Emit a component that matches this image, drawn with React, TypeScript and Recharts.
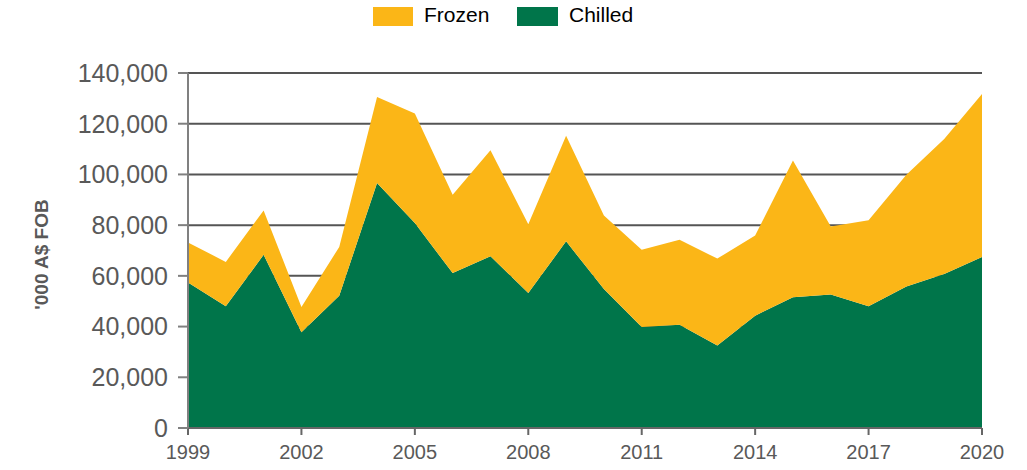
import React from "react";
import { AreaChart, Area, XAxis, YAxis, CartesianGrid } from "recharts";

const years = [1999, 2000, 2001, 2002, 2003, 2004, 2005, 2006, 2007, 2008, 2009, 2010, 2011, 2012, 2013, 2014, 2015, 2016, 2017, 2018, 2019, 2020];
const chilled = [57400, 48000, 68300, 37800, 52200, 96600, 80800, 61100, 67700, 53200, 73600, 54800, 39800, 40700, 32500, 44300, 51600, 52600, 48000, 55800, 60700, 67400];
const frozen = [15800, 17500, 17500, 9900, 19200, 33900, 43200, 30900, 41800, 27200, 41700, 29000, 30500, 33500, 34300, 31600, 53900, 26900, 33900, 44100, 53300, 64300];
const yTicks = [0, 20000, 40000, 60000, 80000, 100000, 120000, 140000];

const data = years.map((y, i) => ({ year: String(y), Chilled: chilled[i], Frozen: frozen[i] }));

const FONT = "'Liberation Sans', Arial, sans-serif";
const GREEN = "#00754A";
const YELLOW = "#FBB617";

const LegendBox = () => (
  <div style={{ position: "absolute", left: 0, top: 0, width: 1027, height: 32, fontFamily: FONT, fontSize: 21, color: "#000" }}>
    <span style={{ position: "absolute", left: 373, top: 7, width: 40, height: 19, background: YELLOW }} />
    <span style={{ position: "absolute", left: 424, top: 3, lineHeight: "24px" }}>Frozen</span>
    <span style={{ position: "absolute", left: 517, top: 7, width: 41, height: 19, background: GREEN }} />
    <span style={{ position: "absolute", left: 569, top: 3, lineHeight: "24px" }}>Chilled</span>
  </div>
);

export default function App() {
  return (
    <div style={{ position: "absolute", left: 0, top: 0, width: 1027, height: 470, background: "#fff" }}>
      <AreaChart width={1027} height={470} data={data} margin={{ top: 73, right: 45, bottom: 12, left: 0 }}>
        <CartesianGrid vertical={false} stroke="#555" strokeWidth={2} />
        <XAxis
          dataKey="year"
          interval={2}
          height={30}
          tickSize={7}
          tickMargin={10}
          stroke="#666"
          strokeWidth={2}
          tick={{ fill: "#595959", fontSize: 20, fontFamily: FONT }}
        />
        <YAxis
          width={188}
          domain={[0, 140000]}
          ticks={yTicks}
          tickFormatter={(v: number) => v.toLocaleString("en-US")}
          tickSize={10}
          tickMargin={10}
          stroke="#808080"
          strokeWidth={2}
          tick={{ fill: "#595959", fontSize: 25, fontFamily: FONT }}
          label={{ value: "'000 A$ FOB", angle: -90, position: "center", dx: -53, dy: 4, fill: "#595959", fontSize: 19, fontWeight: "bold", fontFamily: FONT }}
        />
        <Area type="linear" dataKey="Chilled" stackId="a" stroke="none" fill={GREEN} fillOpacity={1} isAnimationActive={false} />
        <Area type="linear" dataKey="Frozen" stackId="a" stroke="none" fill={YELLOW} fillOpacity={1} isAnimationActive={false} />
      </AreaChart>
      <LegendBox />
    </div>
  );
}
